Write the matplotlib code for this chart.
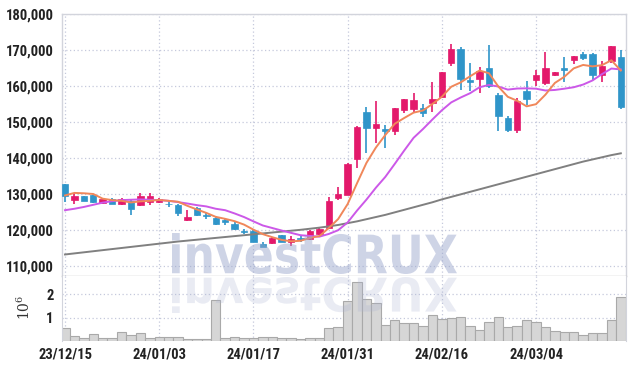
import matplotlib
matplotlib.use("Agg")
import matplotlib.pyplot as plt
from matplotlib import font_manager as fm
from matplotlib.textpath import TextPath
from matplotlib.patches import PathPatch
from matplotlib.transforms import Affine2D
from matplotlib.ticker import FuncFormatter, FixedLocator

# ---------------- data ----------------
date_labels = ["23/12/15", "24/01/03", "24/01/17", "24/01/31", "24/02/16", "24/03/04"]
date_label_idx = [0, 10, 20, 30, 40, 50]

opens = [132750, 128450, 129350, 129600, 127600, 128700, 127350, 128000, 127050, 127800,
         127900, 127350, 127050, 122700, 126150, 124250, 123300, 122850, 121650, 119800,
         119850, 116150, 116250, 118650, 116600, 117900, 117450, 118850, 120500, 128900,
         129800, 139800, 152850, 148450, 148050, 147600, 153350, 153600, 154000, 155350,
         157050, 166300, 170300, 161650, 161950, 165000, 157600, 151100, 147900, 158700,
         161750, 160850, 162950, 165000, 167300, 169000, 169000, 162950, 166850, 168050]
highs = [132800, 130300, 129500, 129800, 128600, 128800, 128900, 128200, 130300, 130300,
         128800, 128150, 127200, 125500, 126300, 124700, 123750, 123000, 122100, 120300,
         119900, 116800, 117950, 118700, 118200, 118200, 120100, 120950, 129100, 131950,
         138500, 148900, 154100, 155850, 149200, 153900, 156500, 158000, 155000, 161200,
         163900, 171700, 170750, 166300, 165400, 171500, 158000, 151700, 156800, 161300,
         164550, 169350, 164000, 168050, 168450, 169400, 169200, 166850, 171000, 170100]
lows = [127800, 127300, 128000, 127500, 127300, 127100, 126900, 124300, 126600, 126900,
        127600, 126300, 123800, 122500, 123800, 123000, 121250, 121400, 120100, 119000,
        116800, 115400, 116000, 116600, 115600, 116800, 117200, 118700, 120300, 128400,
        129700, 137300, 141500, 144100, 142700, 146400, 152400, 152900, 151500, 152900,
        156600, 165600, 158900, 158700, 158000, 159400, 147600, 147100, 147000, 154800,
        159900, 160350, 162700, 161000, 166100, 167300, 161750, 161000, 166300, 153600]
closes = [129400, 129550, 128150, 127800, 128500, 127350, 128600, 125950, 129350, 129350,
          128600, 127250, 124750, 123600, 124300, 123950, 121650, 122100, 120350, 119500,
          116800, 115400, 117900, 116600, 117550, 117450, 119600, 120300, 127950, 130000,
          138200, 148600, 148450, 149350, 147400, 153800, 156400, 156100, 152400, 156400,
          163800, 170300, 161950, 161200, 164250, 160100, 151800, 147700, 155700, 156500,
          163150, 165000, 163800, 164350, 168250, 167850, 163000, 165650, 171000, 154100]
volumes_m = [0.54, 0.21, 0.11, 0.30, 0.11, 0.11, 0.37, 0.25, 0.33, 0.11,
             0.16, 0.16, 0.16, 0.08, 0.08, 0.08, 1.74, 0.11, 0.19, 0.14,
             0.14, 0.19, 0.19, 0.11, 0.11, 0.07, 0.14, 0.11, 0.57, 0.61,
             1.69, 2.51, 1.78, 1.61, 0.68, 0.89, 0.76, 0.79, 0.64, 1.11,
             0.94, 1.00, 1.03, 0.64, 0.47, 0.80, 1.01, 0.59, 0.63, 0.89,
             0.81, 0.59, 0.41, 0.37, 0.37, 0.24, 0.33, 0.33, 0.89, 1.90]
ma_short = [129600, 130300, 130200, 130000, 128700, 128300, 128100, 127650, 127950, 128100,
            128350, 128100, 127850, 126700, 125700, 124750, 123650, 123100, 122450, 121500,
            120100, 118850, 118000, 117250, 116850, 117000, 117800, 118300, 120550, 123050,
            127200, 133000, 138650, 142900, 146400, 149500, 151100, 152600, 153200, 155000,
            157000, 159800, 161000, 162700, 164300, 163550, 159850, 157000, 155900, 154350,
            154950, 157600, 160850, 162550, 164900, 165850, 165450, 165800, 167150, 164300]
ma_mid = [125500, 125900, 126400, 127000, 127600, 128000, 128300, 128400, 128500, 128400,
          128300, 128100, 127750, 127350, 126900, 126550, 125900, 125500, 124600, 123600,
          122400, 121250, 120550, 119850, 119200, 118550, 118350, 118150, 118900, 119950,
          122100, 125400, 128450, 131750, 134750, 138350, 142050, 145600, 148050, 150700,
          153250, 155450, 156800, 158000, 159650, 160300, 159850, 159000, 159300, 159350,
          159250, 158750, 158900, 159250, 159650, 160400, 161550, 163300, 164850, 164600]
ma_long = [113200, 113500, 113800, 114100, 114400, 114700, 115000, 115300, 115600, 115900,
           116200, 116500, 116800, 117050, 117300, 117550, 117800, 118050, 118300, 118550,
           118800, 119050, 119300, 119550, 119800, 120050, 120350, 120650, 121000, 121400,
           121900, 122400, 123000, 123600, 124200, 124900, 125600, 126300, 127000, 127700,
           128500, 129200, 129900, 130600, 131300, 132000, 132700, 133400, 134100, 134800,
           135500, 136200, 136900, 137600, 138300, 139000, 139600, 140200, 140800, 141300]
price_ticks = [110000, 120000, 130000, 140000, 150000, 160000, 170000, 180000]
volume_ticks = [1, 2]
watermark = "investCRUX"


def pick_font(names):
    for n in names:
        try:
            fm.findfont(fm.FontProperties(family=n), fallback_to_default=False)
            return n
        except Exception:
            pass
    return "DejaVu Sans"


label_font = pick_font(["Liberation Sans Narrow", "Roboto Condensed", "Liberation Sans"])
plt.rcParams["mathtext.fontset"] = "dejavuserif"

UP = "#e3196b"
DOWN = "#2f95c9"
GRID = "#c5c9dc"
SPINE = "#d2d4dc"
TXT = "#222222"

fig = plt.figure(figsize=(6.34, 3.70), dpi=100)
axp = fig.add_axes([62 / 634, 94 / 370, 564 / 634, 262 / 370])
axv = fig.add_axes([62 / 634, 29 / 370, 564 / 634, 65 / 370], sharex=axp)

n = len(closes)
x = list(range(n))

# ---------- candles ----------
for i in x:
    o, h, l, c = opens[i], highs[i], lows[i], closes[i]
    col = UP if c >= o else DOWN
    axp.vlines(i, l, h, color=col, linewidth=1.2, zorder=3)
    axp.bar(i, abs(c - o), bottom=min(o, c), width=0.68, color=col,
            edgecolor=col, linewidth=0.5, zorder=3)

axp.plot(x, ma_long, color="#808080", linewidth=1.4, zorder=4)
axp.plot(x, ma_mid, color="#cc58e8", linewidth=1.4, zorder=4)
axp.plot(x, ma_short, color="#f0875a", linewidth=1.4, zorder=4)

axp.set_xlim(-0.32, n - 0.45)
axp.set_ylim(107220, 180000)
axp.yaxis.set_major_locator(FixedLocator(price_ticks))
axp.yaxis.set_major_formatter(FuncFormatter(lambda v, p: f"{int(v):,}"))
axp.xaxis.set_major_locator(FixedLocator(date_label_idx))
axp.tick_params(axis="x", labelbottom=False, length=0)
axp.tick_params(axis="y", length=0, pad=6, labelsize=10.5, labelcolor=TXT)
axp.grid(True, color=GRID, linestyle=(0, (1, 2)), linewidth=0.9, zorder=0)
axp.set_axisbelow(True)
for s in ["top", "left", "right"]:
    axp.spines[s].set_color(SPINE)
    axp.spines[s].set_linewidth(1.0)
axp.spines["bottom"].set_color("#c4c4c4")
axp.spines["bottom"].set_linewidth(1.0)

# ---------- volume ----------
axv.bar(x, volumes_m, width=1.0, color="#d6d6d6", edgecolor="#a9a9a9",
        linewidth=0.8, zorder=2)
axv.set_ylim(0, 2.78)
axv.yaxis.set_major_locator(FixedLocator(volume_ticks))
axv.yaxis.set_major_formatter(FuncFormatter(lambda v, p: f"{int(v)}"))
axv.xaxis.set_major_locator(FixedLocator(date_label_idx))
axv.set_xticklabels(date_labels)
axv.tick_params(axis="both", length=0, labelsize=10.5, labelcolor=TXT)
axv.tick_params(axis="y", pad=6)
axv.tick_params(axis="x", pad=5)
axv.grid(True, color=GRID, linestyle=(0, (1, 2)), linewidth=0.9, zorder=0)
axv.set_axisbelow(True)
axv.spines["top"].set_visible(False)
axv.spines["bottom"].set_visible(False)
for s in ["left", "right"]:
    axv.spines[s].set_color(SPINE)
axv.set_ylabel(r"$10^6$", fontsize=10, color="#333333", rotation=90)
axv.yaxis.set_label_coords(-0.051, 0.52)

for ax in (axp, axv):
    for lab in ax.get_xticklabels() + ax.get_yticklabels():
        lab.set_fontfamily(label_font)
        lab.set_fontweight("bold")

# ---------- watermark ----------
tp = TextPath((0, 0), watermark, size=1,
              prop=fm.FontProperties(family="DejaVu Sans", weight="bold"))
ext = tp.get_extents()
W = 2.85
H = 0.41
x0 = 1.72
base = (370 - 274) / 100
tr_main = (Affine2D().translate(-ext.x0, -ext.y0)
           .scale(W / ext.width, H / ext.height)
           .translate(x0, base) + fig.dpi_scale_trans)
fig.patches.append(PathPatch(tp, transform=tr_main, facecolor="#9aa6cc",
                             edgecolor="none", alpha=0.48, zorder=10,
                             figure=fig))
H2 = 0.36
top2 = (370 - 277) / 100
tr_ref = (Affine2D().translate(-ext.x0, -ext.y0)
          .scale(W / ext.width, -H2 / ext.height)
          .translate(x0, top2) + fig.dpi_scale_trans)
fig.patches.append(PathPatch(tp, transform=tr_ref, facecolor="#aab3d2",
                             edgecolor="none", alpha=0.26, zorder=10,
                             figure=fig))

fig.savefig("out.png", dpi=100)
